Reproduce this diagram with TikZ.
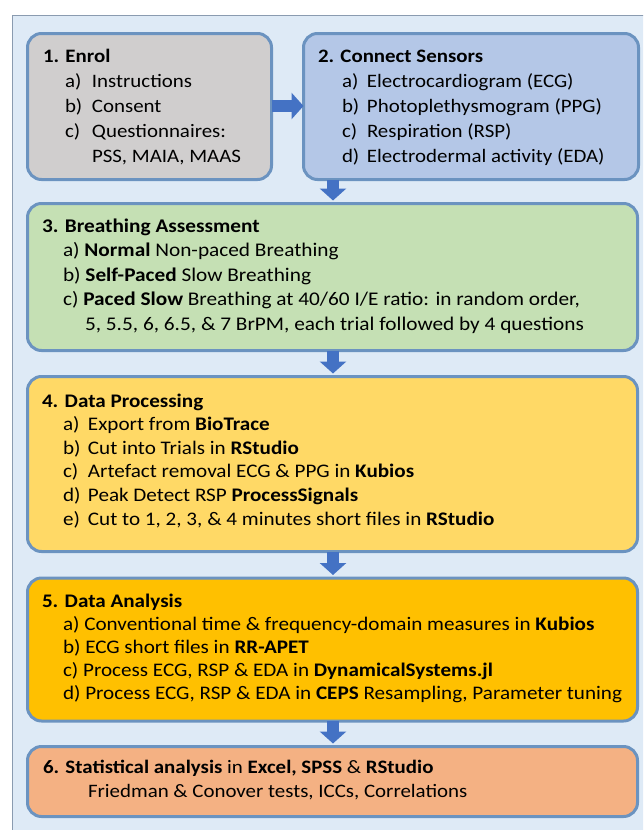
\documentclass[tikz,border=0pt]{standalone}
\usepackage{fontspec}
\setmainfont{Carlito}[FakeStretch=1.1]
\usetikzlibrary{arrows.meta,calc}

\definecolor{bgcol}{HTML}{DEEAF6}
\definecolor{framecol}{HTML}{8A9BB0}
\definecolor{edgecol}{HTML}{6B93C0}
\definecolor{flowcol}{HTML}{4472C4}
\definecolor{enrolfill}{HTML}{D0CECE}
\definecolor{sensorfill}{HTML}{B4C7E7}
\definecolor{breathfill}{HTML}{C5E0B4}
\definecolor{procfill}{HTML}{FFD966}
\definecolor{analysisfill}{HTML}{FFC000}
\definecolor{statsfill}{HTML}{F4B183}

\tikzset{
  stagebox/.style={draw=edgecol, line width=3pt, rounded corners=14pt,
    anchor=north west, inner sep=0pt, outer sep=0pt},
  body/.style={anchor=base west, inner sep=0pt, outer sep=0pt},
  flow/.style={flowcol, line width=12pt,
    -{Triangle[length=12pt,width=26pt]}},
}

% first-line-aligned block of left-set lines: size, line step, lines
\newcommand{\lines}[3]{{\fontsize{#1}{#2}\selectfont
  \begin{tabular}[t]{@{}l@{}}#3\end{tabular}}}
% list label set in a fixed-width slot
\newcommand{\itm}[3]{\makebox[#1][l]{#2}#3}

\begin{document}
\begin{tikzpicture}[x=1pt,y=-1pt]
  \useasboundingbox (0,0) rectangle (643,830);
  \clip (0,0) rectangle (643,830);
  % background panel
  \draw[framecol, fill=bgcol, line width=1pt] (12,15) rectangle (700,900);

  % stage boxes
  \node[stagebox, fill=enrolfill, minimum width=244pt, minimum height=146pt] (b1) at (27.5,33.5) {};
  \node[stagebox, fill=sensorfill, minimum width=335pt, minimum height=146pt] (b2) at (303.5,33.5) {};
  \node[stagebox, fill=breathfill, minimum width=610pt, minimum height=147pt] (b3) at (27.5,203.5) {};
  \node[stagebox, fill=procfill, minimum width=610pt, minimum height=175pt] (b4) at (27.5,376.5) {};
  \node[stagebox, fill=analysisfill, minimum width=610pt, minimum height=143pt] (b5) at (27.5,578) {};
  \node[stagebox, fill=statsfill, minimum width=610pt, minimum height=70pt] (b6) at (27.5,746.5) {};

  % box texts
  \node[body] (t1) at (43,62) {\lines{19pt}{25pt}{\textbf{1. Enrol}\\
    \hspace*{22pt}\itm{27pt}{a)}{Instructions}\\
    \hspace*{22pt}\itm{27pt}{b)}{Consent}\\
    \hspace*{22pt}\itm{27pt}{c)}{Questionnaires:}\\
    \hspace*{49pt}PSS, MAIA, MAAS}};
  \node[body] (t2) at (318,62) {\lines{19pt}{25pt}{\textbf{2. Connect Sensors}\\
    \hspace*{24pt}\itm{25pt}{a)}{Electrocardiogram (ECG)}\\
    \hspace*{24pt}\itm{25pt}{b)}{Photoplethysmogram (PPG)}\\
    \hspace*{24pt}\itm{25pt}{c)}{Respiration (RSP)}\\
    \hspace*{24pt}\itm{25pt}{d)}{Electrodermal activity (EDA)}}};
  \node[body] (t3) at (42,232) {\lines{19.35pt}{24.5pt}{\textbf{3. Breathing Assessment}\\
    \hspace*{21pt}a) \textbf{Normal} Non-paced Breathing\\
    \hspace*{21pt}b) \textbf{Self-Paced} Slow Breathing\\
    \hspace*{21pt}c) \textbf{Paced Slow} Breathing at 40/60 I/E ratio: in random order,\\
    \hspace*{43pt}5, 5.5, 6, 6.5, \& 7 BrPM, each trial followed by 4 questions}};
  \node[body] (t4) at (42,407) {\lines{19.2pt}{23.6pt}{\textbf{4. Data Processing}\\
    \hspace*{21pt}\itm{25pt}{a)}{Export from \textbf{BioTrace}}\\
    \hspace*{21pt}\itm{25pt}{b)}{Cut into Trials in \textbf{RStudio}}\\
    \hspace*{21pt}\itm{25pt}{c)}{Artefact removal ECG \& PPG in \textbf{Kubios}}\\
    \hspace*{21pt}\itm{25pt}{d)}{Peak Detect RSP \textbf{ProcessSignals}}\\
    \hspace*{21pt}\itm{25pt}{e)}{Cut to 1, 2, 3, \& 4 minutes short files in \textbf{RStudio}}}};
  \node[body] (t5) at (42,607) {\lines{19.2pt}{23pt}{\textbf{5. Data Analysis}\\
    \hspace*{21pt}a) Conventional time \& frequency-domain measures in \textbf{Kubios}\\
    \hspace*{21pt}b) ECG short files in \textbf{RR-APET}\\
    \hspace*{21pt}c) Process ECG, RSP \& EDA in \textbf{DynamicalSystems.jl}\\
    \hspace*{21pt}d) Process ECG, RSP \& EDA in \textbf{CEPS} Resampling, Parameter tuning}};
  \node[body] (t6) at (43,773) {\lines{19pt}{24pt}{\textbf{6. Statistical analysis} in \textbf{Excel, SPSS} \& \textbf{RStudio}\\
    \hspace*{45pt}Friedman \& Conover tests, ICCs, Correlations}};

  % flow arrows
  \coordinate (axis) at (333,0);
  \draw[flow] (b1.east |- 0,106) -- (b2.west |- 0,106);
  \draw[flow] (b2.south -| axis) -- ([yshift=3pt]b3.north -| axis);
  \draw[flow] (b3.south -| axis) -- ([yshift=3pt]b4.north -| axis);
  \draw[flow] (b4.south -| axis) -- ([yshift=3pt]b5.north -| axis);
  \draw[flow] (b5.south -| axis) -- ([yshift=3pt]b6.north -| axis);
\end{tikzpicture}
\end{document}
